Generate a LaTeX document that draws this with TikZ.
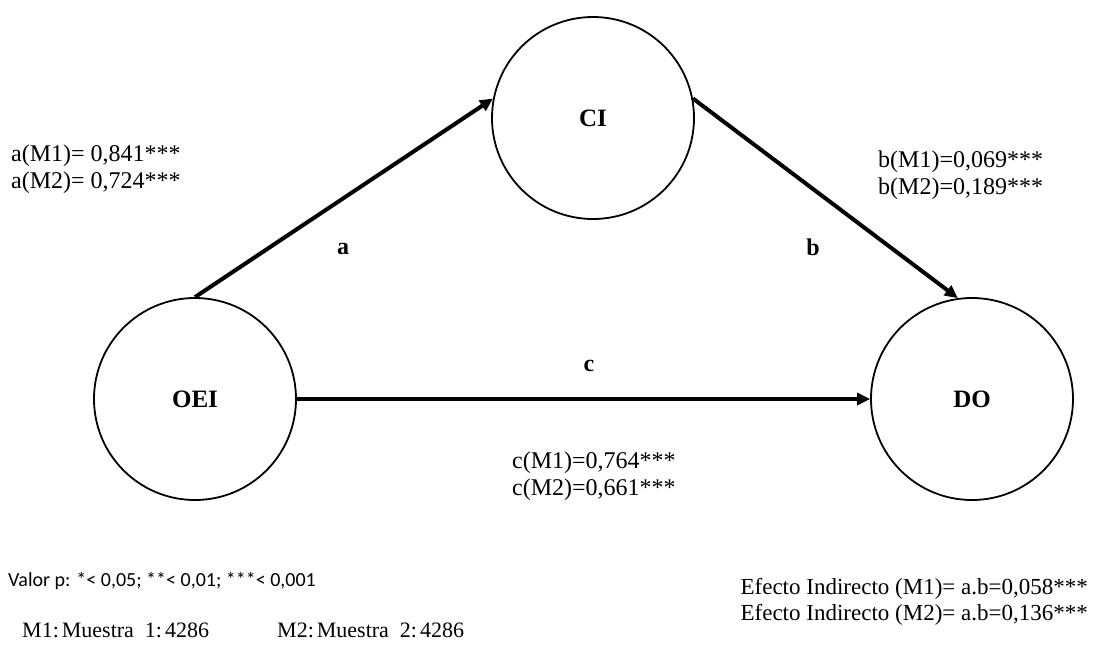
\documentclass[tikz,border=0pt]{standalone}
\usepackage{fontspec}
\setmainfont{Liberation Serif}
\newfontfamily\calibrifont{Carlito}
\usetikzlibrary{arrows.meta}
\begin{document}
\begin{tikzpicture}[x=1pt,y=-1pt,
  var/.style={circle,draw,line width=1.8pt,minimum size=202pt,inner sep=0pt,font=\bfseries\fontsize{25}{29}\selectfont},
  path/.style={line width=4pt,-{Triangle[length=13pt,width=12pt]}},
  lbl/.style={font=\bfseries\fontsize{24}{28}\selectfont,inner sep=0pt},
  coef/.style={font=\fontsize{24}{27.5}\selectfont,align=left,inner sep=0pt},
  foot/.style={font=\fontsize{22}{26}\selectfont,inner sep=0pt},
  note/.style={font=\calibrifont\fontsize{20}{24}\selectfont,inner sep=0pt}]
\useasboundingbox (0,0) rectangle (1094,657);
\node[var] (CI) at (593,118) {CI};
\node[var] (OEI) at (195,399) {OEI};
\node[var] (DO) at (972,399) {DO};
\draw[path] (OEI.north) -- (CI.169);
\draw[path] (CI.11) -- (DO.98);
\draw[path] (OEI.east) -- (DO.west);
\node[lbl] (la) at (343,249) {a};
\node[lbl] (lb) at (813,247) {b};
\node[lbl] (lc) at (589,366) {c};
\node[coef,anchor=west] (ta) at (11,169) {a(M1)= 0,841***\\a(M2)= 0,724***};
\node[coef,anchor=west] (tb) at (878,175) {b(M1)=0,069***\\b(M2)=0,189***};
\node[coef,anchor=west] (tc) at (512,476) {c(M1)=0,764***\\c(M2)=0,661***};
\node[coef,anchor=east,font=\fontsize{23}{26.5}\selectfont] (te) at (1088,602) {Efecto Indirecto (M1)= a.b=0,058***\\Efecto Indirecto (M2)= a.b=0,136***};
\node[note,anchor=west] (tp) at (8,581) {Valor p: *< 0,05; **< 0,01; ***< 0,001};
\node[foot,anchor=west] (m1) at (22,630) {M1:\hspace{3pt}Muestra\hspace{11pt}1:\hspace{3pt}4286};
\node[foot,anchor=west] (m2) at (277,630) {M2:\hspace{3pt}Muestra\hspace{11pt}2:\hspace{3pt}4286};
\end{tikzpicture}
\end{document}
